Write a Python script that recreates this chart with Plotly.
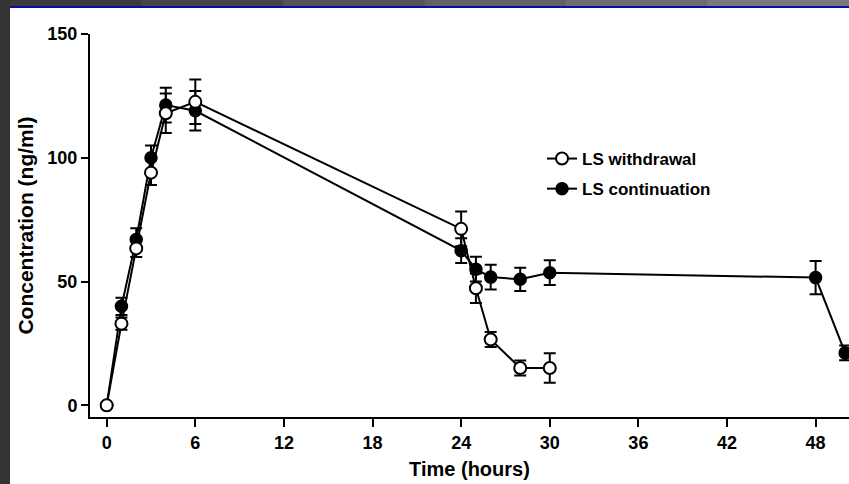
import plotly.graph_objects as go

# Data
time_withdrawal = [0, 1, 2, 3, 4, 6, 24, 25, 26, 28, 30]
conc_withdrawal = [0, 33, 63.4, 94, 118, 122.6, 71.3, 47.3, 26.6, 15.1, 15.1]
err_withdrawal = [0, 2.5, 3.5, 5, 8, 9, 7, 6, 3, 3, 6]

time_continuation = [0, 1, 2, 3, 4, 6, 24, 25, 26, 28, 30, 48, 50]
conc_continuation = [0, 40, 67, 100, 121.3, 119, 62.5, 55, 51.8, 50.9, 53.6, 51.6, 21.2]
err_continuation = [0, 3.5, 4.5, 5, 7, 8, 5, 5, 5, 4.7, 5, 6.7, 3]

x_ticks = [0, 6, 12, 18, 24, 30, 36, 42, 48]
y_ticks = [0, 50, 100, 150]

W, H = 849, 484
L, R, T, B = 90, 0, 34, 67
pw = W - L - R
ph = H - T - B

def px(x):
    return (x - L) / pw

def py(y):
    return (H - B - y) / ph

fig = go.Figure()

fig.add_trace(go.Scatter(
    x=time_continuation, y=conc_continuation, name="LS continuation",
    mode="lines+markers", legendgroup="c", legendrank=2,
    line=dict(color="black", width=2),
    marker=dict(symbol="circle", size=12, color="black", line=dict(color="black", width=1.5)),
    error_y=dict(type="data", array=err_continuation, color="black", thickness=2, width=6),
))

fig.add_trace(go.Scatter(
    x=time_withdrawal, y=conc_withdrawal, name="LS withdrawal",
    mode="lines+markers", legendgroup="w", legendrank=1,
    line=dict(color="black", width=2),
    marker=dict(symbol="circle", size=12, color="white", line=dict(color="black", width=2)),
    error_y=dict(type="data", array=err_withdrawal, color="black", thickness=2, width=6),
))

font_fam = "Liberation Sans, Arial, sans-serif"

fig.update_layout(
    width=W, height=H,
    margin=dict(l=L, r=R, t=T, b=B),
    paper_bgcolor="white", plot_bgcolor="white",
    font=dict(family=font_fam, color="black"),
    showlegend=True,
    legend=dict(
        x=px(542), y=py(141), xanchor="left", yanchor="top",
        traceorder="grouped",
        font=dict(size=17, family=font_fam, color="black", weight="bold"),
        bgcolor="rgba(0,0,0,0)", itemwidth=30, tracegroupgap=5,
    ),
    xaxis=dict(
        range=[-1.13, 50.26],
        tickmode="array", tickvals=x_ticks, ticktext=[str(v) for v in x_ticks],
        showgrid=False, zeroline=False,
        showline=True, linecolor="black", linewidth=2,
        ticks="outside", ticklen=8, tickwidth=2, tickcolor="black",
        tickfont=dict(size=18, family=font_fam, color="black", weight="bold"),
        title=dict(text="Time (hours)", font=dict(size=20, family=font_fam, color="black", weight="bold"), standoff=10),
    ),
    yaxis=dict(
        range=[-4.7, 150],
        tickmode="array", tickvals=y_ticks, ticktext=[str(v) for v in y_ticks],
        showgrid=False, zeroline=False,
        showline=True, linecolor="black", linewidth=2,
        ticks="outside", ticklen=7, tickwidth=2, tickcolor="black",
        tickfont=dict(size=18, family=font_fam, color="black", weight="bold"),
        title=dict(text="Concentration (ng/ml)", font=dict(size=21, family=font_fam, color="black", weight="bold"), standoff=8),
    ),
)

# Frame decoration (dark slide border)
grays = ["#3a3a3a", "#474747", "#555555", "#626262", "#6e6e6e", "#7a7a7a"]
n = len(grays)
for i, g in enumerate(grays):
    fig.add_shape(type="rect", xref="paper", yref="paper",
                  x0=px(W * i / n), x1=px(W * (i + 1) / n + 2), y0=py(0), y1=py(6),
                  fillcolor=g, line=dict(width=0), layer="above")
fig.add_shape(type="rect", xref="paper", yref="paper",
              x0=px(0), x1=px(W), y0=py(6), y1=py(8),
              fillcolor="#0010b0", line=dict(width=0), layer="above")
fig.add_shape(type="rect", xref="paper", yref="paper",
              x0=px(0), x1=px(10), y0=py(0), y1=py(H),
              fillcolor="#333333", line=dict(width=0), layer="above")

fig.write_html(
    "out.html",
    config={"displayModeBar": False},
    post_script="document.body.style.margin='0';document.body.style.overflow='hidden';",
)
